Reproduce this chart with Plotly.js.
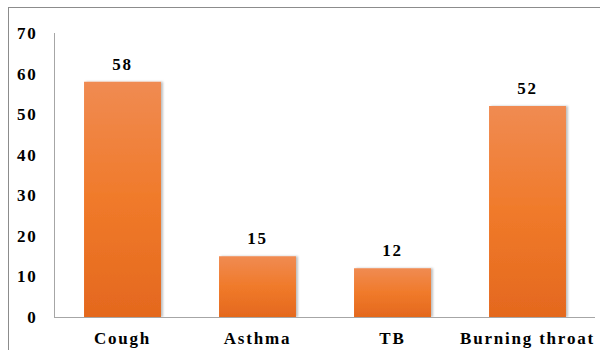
<!DOCTYPE html>
<html>
<head>
<meta charset="utf-8">
<script src="https://cdn.plot.ly/plotly-3.0.1.min.js"></script>
<style>
  html, body { margin: 0; padding: 0; background: #fff; }
  #wrap { position: relative; width: 600px; height: 350px; overflow: hidden; }
  #frame { position: absolute; left: 8px; top: 7px; width: 640px; height: 400px;
           border: 1px solid #8c8c8c; box-sizing: border-box; pointer-events: none; }
  #chart { position: absolute; left: 0; top: 0; width: 600px; height: 350px; }
  /* wide-set bold serif lettering */
  #chart .xtick text, #chart .ytick text, #chart .annotation-text { letter-spacing: 1.8px; }
</style>
</head>
<body>
<div id="wrap">
  <div id="chart"></div>
  <div id="frame"></div>
</div>
<script>
// Symptoms and number of respondents reporting each
const categories = ["Cough", "Asthma", "TB", "Burning throat"];
const counts = [58, 15, 12, 52];
const yTicks = [0, 10, 20, 30, 40, 50, 60, 70];

const FONT = "Liberation Serif, Times New Roman, serif";

const trace = {
  type: "bar",
  x: categories,
  y: counts,
  marker: { color: "#F07A2C", line: { width: 0 } },
  hoverinfo: "skip"
};

const annotations = categories.map((c, i) => ({
  x: c, y: counts[i], xref: "x", yref: "y",
  text: "<b>" + counts[i] + "</b>",
  showarrow: false, yanchor: "bottom", yshift: 6,
  font: { family: FONT, size: 17, color: "#000" }
}));

const layout = {
  width: 600, height: 350,
  margin: { l: 55, r: 5, t: 33, b: 33 },
  paper_bgcolor: "rgba(0,0,0,0)",
  plot_bgcolor: "rgba(0,0,0,0)",
  bargap: 0.43,
  showlegend: false,
  font: { family: FONT, size: 17, color: "#000" },
  xaxis: {
    showline: true, linecolor: "#a6a6a6", linewidth: 1,
    ticks: "", showgrid: false, zeroline: false,
    tickfont: { family: FONT, size: 17, color: "#000", weight: "bold" },
    ticklabelstandoff: 6
  },
  yaxis: {
    range: [0, 70], tickvals: yTicks, ticktext: yTicks.map(String),
    showline: true, linecolor: "#a6a6a6", linewidth: 1,
    ticks: "", showgrid: false, zeroline: false,
    tickfont: { family: FONT, size: 17, color: "#000", weight: "bold" },
    ticklabelstandoff: 13
  },
  annotations: annotations
};

Plotly.newPlot("chart", [trace], layout, { staticPlot: true, displayModeBar: false }).then(gd => {
  // vertical orange gradient and a soft right-hand shadow on each bar
  const svg = gd.querySelector("svg.main-svg");
  const ns = "http://www.w3.org/2000/svg";
  let defs = svg.querySelector("defs");
  if (!defs) { defs = document.createElementNS(ns, "defs"); svg.insertBefore(defs, svg.firstChild); }
  defs.insertAdjacentHTML("beforeend",
    '<linearGradient id="barGrad" x1="0" y1="0" x2="0" y2="1">' +
      '<stop offset="0" stop-color="#F08B52"/>' +
      '<stop offset="0.5" stop-color="#F07A2A"/>' +
      '<stop offset="1" stop-color="#E4681E"/>' +
    '</linearGradient>' +
    '<filter id="barShadow" x="-10%" y="-10%" width="130%" height="120%">' +
      '<feDropShadow dx="2" dy="0" stdDeviation="1.2" flood-color="#000" flood-opacity="0.25"/>' +
    '</filter>');
  gd.querySelectorAll(".bars .point path").forEach(p => {
    p.style.fill = "url(#barGrad)";
    p.setAttribute("filter", "url(#barShadow)");
  });
});
</script>
</body>
</html>
